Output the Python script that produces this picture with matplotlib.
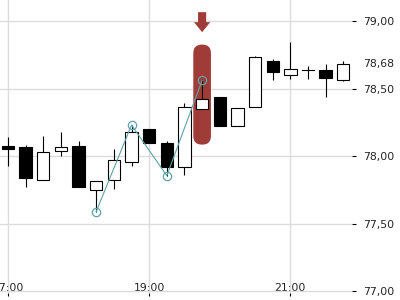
import numpy as np
import matplotlib
matplotlib.use('Agg')
import matplotlib.pyplot as plt
from matplotlib.patches import Rectangle, FancyBboxPatch
from matplotlib.ticker import FuncFormatter
import matplotlib.transforms as mtransforms

# 15 minute candles starting at 17:00
times = 17 + 0.25 * np.arange(20)
opens = [78.075, 78.065, 77.82, 78.04, 78.075, 77.75, 77.82, 77.96, 78.20, 78.10,
         77.92, 78.35, 78.435, 78.225, 78.36, 78.70, 78.60, 78.635, 78.64, 78.56]
highs = [78.14, 78.08, 78.15, 78.175, 78.11, 77.815, 78.05, 78.23, 78.20, 78.11,
         78.39, 78.56, 78.435, 78.355, 78.74, 78.72, 78.845, 78.67, 78.68, 78.70]
lows = [77.93, 77.77, 77.82, 78.00, 77.775, 77.59, 77.76, 77.93, 78.095, 77.855,
        77.86, 78.35, 78.225, 78.225, 78.36, 78.565, 78.57, 78.57, 78.435, 78.555]
closes = [78.05, 77.835, 78.03, 78.065, 77.775, 77.815, 77.97, 78.175, 78.095, 77.92,
          78.36, 78.42, 78.225, 78.355, 78.73, 78.62, 78.645, 78.635, 78.58, 78.68]

# zigzag pivots (candle index, price)
pivot_idx = [5, 7, 9, 11]
pivot_val = [77.59, 78.23, 77.855, 78.56]

highlight_idx = 11

yticks = [77.0, 77.5, 78.0, 78.5, 79.0]
xticks = [17, 19, 21]
xticklabels = ['17:00', '19:00', '21:00']

fig = plt.figure(figsize=(4, 3), dpi=100)
ax = fig.add_axes([0, 7 / 300, 352 / 400, 293 / 300])
ax.set_xlim(16.887, 21.873)
ax.set_ylim(76.987, 79.155)

for s in ax.spines.values():
    s.set_visible(False)

ax.set_xticks(xticks)
ax.set_xticklabels(xticklabels)
ax.set_yticks(yticks)
ax.yaxis.tick_right()
ax.yaxis.set_major_formatter(FuncFormatter(lambda v, p: f'{v:.2f}'.replace('.', ',')))
ax.grid(True, color='#dcdcdc', linewidth=1.0)
ax.set_axisbelow(True)
ax.tick_params(axis='y', direction='out', length=3, width=0.8, pad=5,
               labelsize=7.8, labelcolor='#222222')
ax.tick_params(axis='x', direction='out', length=2.2, width=0.8, pad=-9.6,
               labelsize=7.8, labelcolor='#222222')

# highlight box + arrow
hl_color = '#a03c37'
t = times[highlight_idx]
pad = 0.265
bw = 0.25
aspect = (1 / 135.15) / (1 / 70.6)
box = FancyBboxPatch((t - bw / 2, lows[highlight_idx] - pad), bw,
                     highs[highlight_idx] - lows[highlight_idx] + 2 * pad,
                     boxstyle='round,pad=0,rounding_size=0.12',
                     mutation_aspect=aspect, facecolor=hl_color,
                     edgecolor='none', zorder=2)
ax.add_patch(box)
top = highs[highlight_idx] + pad
ax.arrow(t, top + 0.24, 0, -0.148, width=0.115, head_width=0.23,
         head_length=0.074, length_includes_head=True,
         facecolor=hl_color, edgecolor='none', zorder=2)

# candles
w = 0.175
for x, o, h, l, c in zip(times, opens, highs, lows, closes):
    ax.plot([x, x], [l, h], color='black', linewidth=0.8, zorder=3,
            solid_capstyle='butt')
    if abs(c - o) < 0.002:
        ax.plot([x - w / 2, x + w / 2], [o, o], color='black', linewidth=0.8, zorder=4)
        continue
    face = 'white' if c > o else 'black'
    ax.add_patch(Rectangle((x - w / 2, min(o, c)), w, abs(c - o),
                           facecolor=face, edgecolor='black', linewidth=0.8, zorder=4))

# zigzag line
ax.plot(times[pivot_idx], pivot_val, color='#5fa3a8', linewidth=0.8,
        marker='o', markersize=6, markerfacecolor='none', markeredgewidth=0.9,
        zorder=5)

# last price label
ax.annotate(f'{closes[-1]:.2f}'.replace('.', ','), xy=(1.0, closes[-1]),
            xycoords=('axes fraction', 'data'), xytext=(7.8, 0),
            textcoords='offset points', ha='left', va='center',
            fontsize=7.8, color='#222222', annotation_clip=False)

fig.savefig('out.png', dpi=100)
